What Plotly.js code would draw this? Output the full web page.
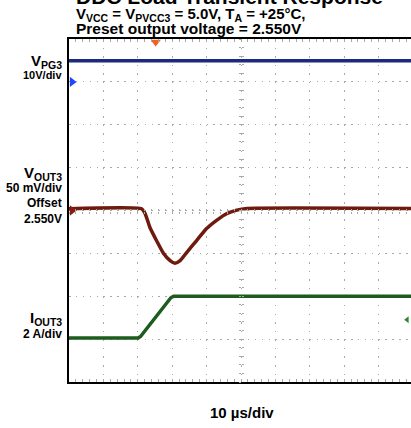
<!DOCTYPE html>
<html>
<head>
<meta charset="utf-8">
<script src="https://cdn.plot.ly/plotly-3.0.1.min.js"></script>
<style>html,body{margin:0;padding:0;background:#fff;}</style>
</head>
<body>
<div id="chart" style="width:411px;height:428px;"></div>
<script>
// ---- Data (time in µs, 10 µs/div) ----
// VPG3 channel (V, 10 V/div)
const pgTime = [0, 100];
const pgVolt = [4.9, 4.9];
// VOUT3 channel (mV deviation from 2.550 V offset, 50 mV/div)
const voutTime = [0, 21.1, 22.1, 23.5, 25.5, 27.4, 29.4, 30.8, 32.3, 34.2, 37.1, 40.0, 42.9, 45.8, 48.8, 51.7, 100];
const voutMv   = [2, 2, -3.3, -19.5, -35.5, -49.5, -58.5, -61.5, -58.5, -49, -35, -21, -11.5, -3.8, 0.4, 2.3, 2.3];
// IOUT3 channel (A, 2 A/div)
const ioutTime = [0, 20.1, 20.8, 29.6, 30.4, 100];
const ioutAmp  = [0.05, 0.05, 0.12, 1.93, 2.0, 2.0];
// scope reference markers
const pgGroundMark = {t: [0.9], v: [0]};
const voutOffsetMark = {t: [0.9], v: [0]};
const triggerMark = {t: [25.2], div: [3.93]};
const ioutMark = {t: [98.3], a: [0.9]};

const FONT = 'Liberation Sans, Arial, sans-serif';

const traces = [
  {x: pgTime, y: pgVolt, yaxis: 'y2', mode: 'lines', line: {color: '#1b2a7a', width: 3.5}, hoverinfo: 'skip'},
  {x: voutTime, y: voutMv, yaxis: 'y3', mode: 'lines', line: {color: '#6e1b0e', width: 3.5, shape: 'spline', smoothing: 0.5}, hoverinfo: 'skip'},
  {x: ioutTime, y: ioutAmp, yaxis: 'y4', mode: 'lines', line: {color: '#1d5c1d', width: 3.5}, hoverinfo: 'skip'},
  {x: pgGroundMark.t, y: pgGroundMark.v, yaxis: 'y2', mode: 'markers', cliponaxis: false,
   marker: {symbol: 'triangle-right', size: 9, color: '#1f45ff'}},
  {x: voutOffsetMark.t, y: voutOffsetMark.v, yaxis: 'y3', mode: 'markers', cliponaxis: false,
   marker: {symbol: 'triangle-right', size: 9, color: '#8a1a12'}},
  {x: triggerMark.t, y: triggerMark.div, yaxis: 'y', mode: 'markers', cliponaxis: false,
   marker: {symbol: 'triangle-down', size: 9, color: '#f0601e'}},
  {x: ioutMark.t, y: ioutMark.a, yaxis: 'y4', mode: 'markers', cliponaxis: false,
   marker: {symbol: 'triangle-left', size: 6, color: '#2a8a2a'}},
  // empty helper traces so the centre graticule axes (tick marks only) get drawn
  {x: [], y: [], xaxis: 'x2', yaxis: 'y', mode: 'lines', hoverinfo: 'skip'},
  {x: [], y: [], xaxis: 'x3', yaxis: 'y', mode: 'lines', hoverinfo: 'skip'},
  {x: [], y: [], xaxis: 'x', yaxis: 'y5', mode: 'lines', hoverinfo: 'skip'},
  {x: [], y: [], xaxis: 'x', yaxis: 'y6', mode: 'lines', hoverinfo: 'skip'}
];

function px2x(px) { return (px - 69) / 342; }
function py2y(py) { return (382 - py) / 343; }

function lbl(text, py, size) {
  return {text: '<b>' + text + '</b>', xref: 'paper', yref: 'paper', x: px2x(64), y: py2y(py),
    xanchor: 'right', yanchor: 'middle', showarrow: false, font: {family: FONT, size: size, color: '#000'}};
}
function ttl(text, py, size) {
  return {text: '<b>' + text + '</b>', xref: 'paper', yref: 'paper', x: px2x(74), y: py2y(py),
    xanchor: 'left', yanchor: 'middle', showarrow: false, font: {family: FONT, size: size, color: '#000'}};
}

const gridCol = '#a8a8a8';
const centerTicks = {showgrid: false, zeroline: false, showline: false, showticklabels: false,
  fixedrange: true, ticklen: 2, tickcolor: gridCol, tickwidth: 1};
const layout = {
  width: 411, height: 428,
  margin: {l: 69, r: 0, t: 39, b: 46, pad: 0},
  paper_bgcolor: '#fff', plot_bgcolor: '#fff',
  showlegend: false,
  font: {family: FONT},
  xaxis: {range: [0, 99.42], dtick: 10, tick0: 0, showgrid: true, gridcolor: gridCol, gridwidth: 1,
    griddash: '1.5px,7.08px', zeroline: false, showticklabels: false,
    showline: true, linecolor: '#000', linewidth: 2, mirror: 'ticks',
    ticks: 'inside', ticklen: 3, tickcolor: gridCol,
    minor: {dtick: 2, ticks: 'inside', ticklen: 3, tickcolor: gridCol, showgrid: false},
    fixedrange: true},
  yaxis: {range: [-4, 4], dtick: 1, tick0: 0, showgrid: true, gridcolor: gridCol, gridwidth: 1,
    griddash: '1.5px,5.38px', zeroline: false, showticklabels: false,
    showline: true, linecolor: '#000', linewidth: 2, mirror: false,
    ticks: '', fixedrange: true},
  xaxis2: Object.assign({overlaying: 'x', anchor: 'free', position: 0.5, range: [0, 99.42], dtick: 2, tick0: 0, ticks: 'inside'}, centerTicks),
  xaxis3: Object.assign({overlaying: 'x', anchor: 'free', position: 0.5, range: [0, 99.42], dtick: 2, tick0: 0, ticks: 'outside'}, centerTicks),
  yaxis5: Object.assign({overlaying: 'y', anchor: 'free', position: 0.503, range: [-4, 4], dtick: 0.2, tick0: 0, ticks: 'inside'}, centerTicks),
  yaxis6: Object.assign({overlaying: 'y', anchor: 'free', position: 0.503, range: [-4, 4], dtick: 0.2, tick0: 0, ticks: 'outside'}, centerTicks),
  yaxis2: {overlaying: 'y', range: [-70, 10], visible: false, fixedrange: true},
  yaxis3: {overlaying: 'y', range: [-200, 200], visible: false, fixedrange: true},
  yaxis4: {overlaying: 'y', range: [-2, 14], visible: false, fixedrange: true},
  annotations: [
    ttl('DDC Load Transient Response', -3.5, 21),
    ttl('V<sub>VCC</sub> = V<sub>PVCC3</sub> = 5.0V, T<sub>A</sub> = +25°C,', 14.5, 15),
    ttl('Preset output voltage = 2.550V', 28.5, 15.5),
    lbl('V<sub>PG3</sub>', 61, 15),
    lbl('10V/div', 74.5, 11),
    lbl('V<sub>OUT3</sub>', 173, 15),
    lbl('50 mV/div', 188, 12),
    lbl('Offset', 203, 12),
    lbl('2.550V', 218.5, 12),
    lbl('I<sub>OUT3</sub>', 318, 15),
    lbl('2 A/div', 333.5, 12),
    {text: '<b>10 µs/div</b>', xref: 'paper', yref: 'paper', x: px2x(242), y: py2y(412),
     xanchor: 'center', yanchor: 'middle', showarrow: false, font: {family: FONT, size: 15, color: '#000'}}
  ]
};

Plotly.newPlot('chart', traces, layout, {staticPlot: true, displayModeBar: false});
</script>
</body>
</html>
